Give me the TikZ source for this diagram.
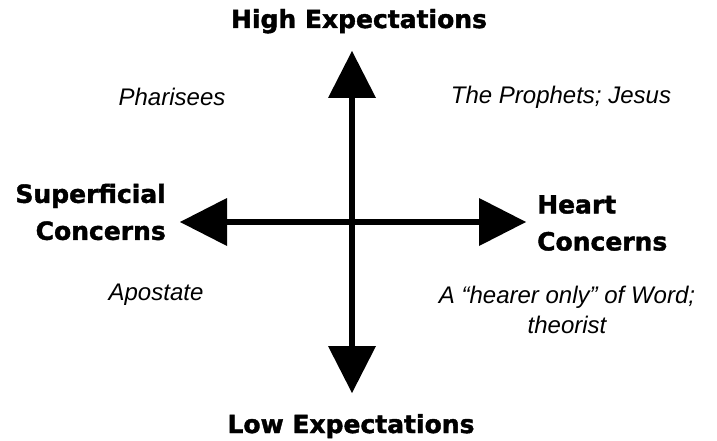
\documentclass[tikz,border=0pt]{standalone}
\usepackage{fontspec}
\setmainfont{Liberation Sans}
\newfontfamily\heavyfont{DejaVu Sans Bold}[FakeBold=1.6]
\usetikzlibrary{arrows.meta,positioning}
\tikzset{
  %% Axes with big solid heads
  qAxis/.style={line width=6pt,
    {Triangle[length=47pt,width=48pt,line width=0pt]}-{Triangle[length=47pt,width=48pt,line width=0pt]}},
  %% Pole labels (heavy sans)
  qPole/.style={font=\heavyfont\fontsize{25}{37}\selectfont, inner sep=0pt},
  %% Quadrant labels (italic)
  qType/.style={font=\itshape\fontsize{24}{30}\selectfont, inner sep=0pt, align=center},
}
\begin{document}
\begin{tikzpicture}[x=1pt, y=1pt]
\useasboundingbox (0,0) rectangle (717,-441);

%% Axis end points
\coordinate (vTop) at (352,-51);
\coordinate (vBot) at (352,-393);
\coordinate (hLeft) at (180,-222);
\coordinate (hRight) at (526,-222);

%% Axes
\draw[qAxis] (vBot) -- (vTop);
\draw[qAxis] (hLeft) -- (hRight);

%% Poles
\node[qPole, anchor=base] (pHigh) at (359,-28) {High Expectations};
\node[qPole, anchor=base] (pLow) at (351,-433) {Low Expectations};
\node[qPole, align=right, anchor=east] (pSuperf) at (166,-212) {Superficial\\Concerns};
\node[qPole, align=left, anchor=west] (pHeart) at (537,-223) {Heart\\Concerns};

%% Quadrants
\node[qType] (qPharisees) at (172,-97) {Pharisees};
\node[qType] (qProphets) at (561,-97) {The Prophets; Jesus};
\node[qType] (qApostate) at (156,-295) {Apostate};
\node[qType] (qHearer) at (567,-310) {A “hearer only” of Word;\\theorist};

\end{tikzpicture}
\end{document}
